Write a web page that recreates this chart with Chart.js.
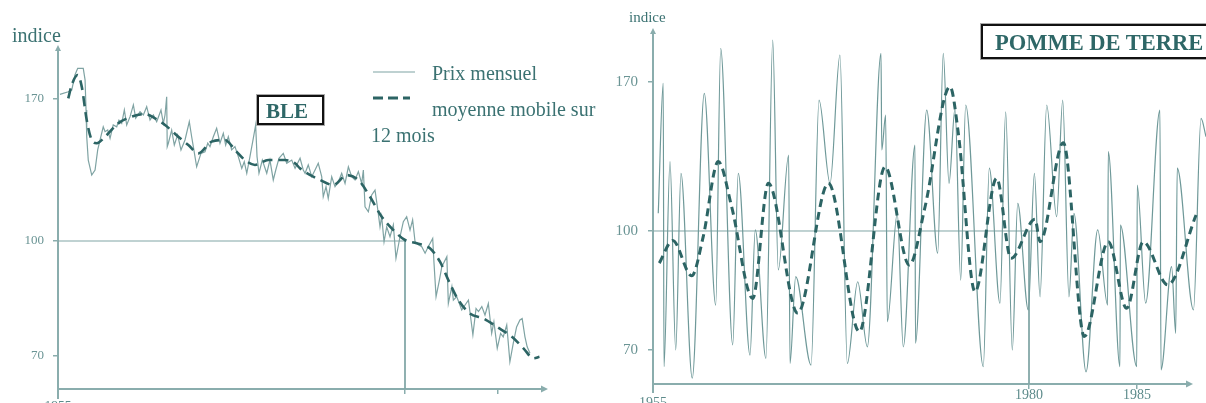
<!DOCTYPE html>
<html>
<head>
<meta charset="utf-8">
<script src="https://cdn.jsdelivr.net/npm/chart.js@4.4.1/dist/chart.umd.min.js"></script>
<style>
html, body { margin:0; padding:0; width:1206px; height:403px; overflow:hidden; background:#fff; font-family:"Liberation Serif", serif; }
.panel { position:absolute; top:0; }
#bleWrap { left:0; }
#pdtWrap { left:600px; }
.lbl { position:absolute; color:#3b7272; white-space:nowrap; line-height:1; }
.box { position:absolute; border:2px solid #111; box-shadow:0 0 0 1px #aaa; background:#fff; color:#2e6767; font-weight:bold; white-space:nowrap; }
</style>
</head>
<body>
<div class="panel" id="bleWrap"><canvas id="ble" width="600" height="420"></canvas></div>
<div class="panel" id="pdtWrap"><canvas id="pdt" width="606" height="420"></canvas></div>

<div class="lbl" style="left:12px;top:25px;font-size:20px;">indice</div>
<div class="lbl" style="left:629px;top:10px;font-size:15px;">indice</div>
<div class="lbl" style="left:432px;top:63px;font-size:20px;">Prix mensuel</div>
<div class="lbl" style="left:432px;top:99px;font-size:20px;">moyenne mobile sur</div>
<div class="lbl" style="left:371px;top:125px;font-size:20px;">12 mois</div>
<div class="box" style="left:257px;top:95px;width:56px;padding-left:7px;font-size:21px;line-height:24px;padding-top:2px;height:24px;">BLE</div>
<div class="box" style="left:981px;top:24px;width:240px;height:29px;padding-left:12px;padding-top:2px;font-size:22.5px;line-height:29px;">POMME DE TERRE</div>

<script>
// ---- BLE (wheat) : monthly price index and 12 month moving average
var blePriceX = [1955.14,1955.74,1955.99,1956.22,1956.42,1956.82,1956.95,1957.02,1957.07,1957.18,
  1957.43,1957.67,1957.86,1958.03,1958.26,1958.39,1958.58,1958.75,1958.98,1959.23,
  1959.39,1959.59,1959.78,1959.95,1960.19,1960.43,1960.60,1960.91,1961.15,1961.39,
  1961.63,1961.87,1962.11,1962.42,1962.59,1962.71,1962.83,1962.87,1962.95,1963.19,
  1963.38,1963.62,1963.86,1964.15,1964.46,1964.63,1964.75,1964.99,1965.30,1965.59,
  1965.79,1965.95,1966.19,1966.43,1966.67,1966.91,1967.08,1967.27,1967.51,1967.75,
  1967.99,1968.24,1968.42,1968.60,1968.83,1969.07,1969.24,1969.34,1969.48,1969.72,
  1970.04,1970.27,1970.51,1970.69,1970.92,1971.23,1971.48,1971.84,1972.08,1972.44,
  1972.67,1972.80,1973.03,1973.28,1973.52,1973.75,1974.00,1974.11,1974.31,1974.47,
  1974.72,1974.96,1975.20,1975.44,1975.68,1975.92,1976.16,1976.40,1976.64,1976.88,
  1977.00,1977.12,1977.36,1977.60,1977.84,1978.01,1978.20,1978.32,1978.49,1978.68,
  1978.92,1979.16,1979.35,1979.64,1979.88,1980.09,1980.27,1980.41,1980.54,1980.72,
  1980.90,1981.08,1981.25,1981.49,1981.56,1981.67,1981.85,1981.98,1982.25,1982.33,
  1982.52,1982.60,1982.78,1983.05,1983.23,1983.41,1983.65,1983.82,1983.95,1984.13,
  1984.30,1984.48,1984.66,1984.78,1984.96,1985.14,1985.28,1985.47,1985.64,1985.82,
  1986.00,1986.18,1986.30,1986.45,1986.57,1986.72];
var blePriceY = [172.3,173.6,174.4,181.8,185.1,185.1,179.4,164.6,151.4,139.9,
  132.5,135.0,144.9,149.8,156.3,153.9,154.7,150.6,157.2,156.3,
  159.6,158.0,164.6,157.2,161.3,167.1,160.5,163.7,162.1,166.2,
  159.6,162.1,158.8,164.6,158.0,162.1,171.1,146.5,148.2,154.7,
  147.3,152.3,144.9,149.8,158.8,151.4,146.5,136.6,143.2,144.0,
  148.2,146.5,151.4,155.6,148.2,153.1,147.3,151.4,144.9,146.5,
  141.6,135.8,139.1,133.4,141.6,150.6,157.2,141.6,133.4,139.9,
  133.4,139.9,130.1,135.0,140.8,143.2,138.3,139.9,135.8,140.8,
  135.0,133.4,137.5,131.7,135.0,138.3,131.7,121.8,126.8,121.0,
  131.7,126.8,129.2,133.4,128.4,136.6,131.7,130.1,134.2,128.4,
  135.0,116.9,114.4,122.7,125.1,116.9,107.0,112.0,99.8,107.0,
  102.1,107.9,95.5,102.1,109.5,112.0,105.4,110.4,99.8,99.0,
  98.5,96.8,98.5,101.3,94.2,85.5,89.8,93.3,95.9,83.7,
  88.1,84.6,85.5,82.0,83.3,84.6,75.5,82.4,81.6,82.9,
  80.7,83.7,75.9,78.9,72.0,75.9,75.0,78.1,68.5,73.3,
  77.6,79.4,79.8,75.0,72.4,70.7];
var bleAvgX = [1955.74,1955.99,1956.42,1956.71,1957.07,1957.43,1957.79,1958.39,1959.34,1960.31,
  1961.27,1961.99,1962.71,1963.67,1964.39,1965.11,1966.07,1967.03,1967.75,1968.47,
  1969.19,1970.15,1971.35,1972.08,1972.44,1973.88,1974.84,1975.80,1976.64,1977.48,
  1978.32,1979.16,1980.00,1980.63,1981.34,1981.88,1982.33,1982.87,1983.49,1984.21,
  1984.94,1985.75,1986.37,1986.91,1987.23];
var bleAvgY = [170.3,176.9,181.8,176.1,159.6,149.8,148.2,151.4,158.0,161.3,
  162.6,160.5,157.2,151.4,147.3,143.2,149.0,149.8,144.9,139.9,
  137.5,139.9,139.9,138.3,135.8,130.1,127.6,132.5,130.1,121.8,
  112.0,105.4,100.5,99.4,98.1,94.6,89.8,84.6,81.1,79.8,
  77.6,75.0,72.0,69.4,69.8];
var bleXTicks = [1955, 1980, 1985];
var bleXLabels = ['1955', '1980', '1985'];
var bleYTicks = [70, 100, 170];
var bleYLabels = ['70', '100', '170'];
var bleRefX = [1955, 1980];   // base 100 guide line

// ---- POMME DE TERRE (potato)
var pdtPriceX = [1955.35,1955.68,1955.73,1956.13,1956.51,1956.86,1957.61,1958.41,1959.17,1959.50,
  1960.30,1960.67,1961.45,1961.80,1962.51,1962.96,1963.33,1964.02,1964.11,1964.49,
  1965.51,1966.04,1966.77,1967.43,1967.92,1968.61,1969.25,1970.16,1970.21,1970.47,
  1970.58,1971.24,1971.64,1972.42,1972.45,1973.20,1973.93,1974.30,1974.68,1975.08,
  1975.46,1975.79,1976.96,1977.36,1978.07,1978.45,1978.89,1979.25,1979.95,1980.25,
  1980.51,1980.82,1981.28,1981.56,1981.85,1982.08,1982.64,1983.18,1983.64,1983.67,
  1984.21,1984.23,1984.99,1985.01,1985.40,1986.06,1986.11,1986.60,1986.79,1986.86,
  1987.61,1987.96,1988.19];
var pdtPriceY = [108.3,169.4,65.8,132.6,70.0,127.1,62.9,164.7,81.3,185.8,
  71.3,127.1,68.7,100.5,67.9,189.7,90.2,135.7,66.6,88.5,
  66.2,161.5,122.4,182.7,66.6,87.2,70.8,183.5,138.1,154.5,
  77.1,108.3,70.8,140.4,71.7,156.8,94.4,183.5,122.4,157.6,
  87.6,159.2,65.8,129.5,81.8,156.0,70.0,113.0,80.1,127.1,
  83.4,159.2,106.7,161.5,83.4,108.3,64.5,100.5,81.3,137.3,
  65.8,102.8,65.8,121.6,81.8,156.8,65.0,91.0,74.2,129.5,
  80.1,152.9,144.3];
var pdtAvgX = [1955.42,1956.31,1957.57,1958.34,1959.34,1960.23,1961.63,1962.67,1964.62,1966.66,
  1968.72,1970.43,1972.04,1973.09,1974.75,1975.30,1976.41,1977.85,1978.80,1980.28,
  1980.51,1981.59,1982.56,1983.67,1984.52,1985.29,1986.42,1987.73];
var pdtAvgY = [91.9,97.6,88.7,98.6,132.6,111.4,83.0,122.4,79.3,122.4,
  74.6,130.2,91.4,111.4,167.8,145.9,84.7,124.8,93.1,105.5,
  97.3,141.5,73.4,97.3,80.5,97.3,86.4,107.5];
var pdtXTicks = [1955, 1980, 1985];
var pdtXLabels = ['1955', '1980', '1985'];
var pdtYTicks = [70, 100, 170];
var pdtYLabels = ['70', '100', '170'];
var pdtRefX = [1955, 1980.4];

var DARK = '#2c6464';
var AXIS = '#8aadad';
var REF = '#80a5a5';

// the original axes are not drawn to a single scale: piecewise linear between labelled values
class KnotScale extends Chart.LinearScale {
  getPixelForValue(value) {
    var v = this.options.knotValues, f = this.options.knotFracs, i = 0;
    while (i < v.length - 2 && value > v[i + 1]) i++;
    return this.getPixelForDecimal(f[i] + (value - v[i]) / (v[i + 1] - v[i]) * (f[i + 1] - f[i]));
  }
  getValueForPixel(pixel) {
    var d = this.getDecimalForPixel(pixel);
    var v = this.options.knotValues, f = this.options.knotFracs, i = 0;
    while (i < f.length - 2 && d > f[i + 1]) i++;
    return v[i] + (d - f[i]) / (f[i + 1] - f[i]) * (v[i + 1] - v[i]);
  }
}
KnotScale.id = 'knots';
KnotScale.defaults = Chart.LinearScale.defaults;
Chart.register(KnotScale);

// axis lines with small arrow heads
var arrowAxes = {
  id: 'arrowAxes',
  beforeDatasetsDraw: function(chart, args, o) {
    var ctx = chart.ctx, a = chart.chartArea;
    var xr = o.xEnd ? chart.scales.x.getPixelForValue(o.xEnd) : a.right;
    ctx.save();
    ctx.strokeStyle = AXIS; ctx.fillStyle = AXIS; ctx.lineWidth = 2;
    ctx.beginPath();
    ctx.moveTo(a.left, a.bottom + o.below);
    ctx.lineTo(a.left, a.top + 4);
    ctx.moveTo(a.left, a.bottom);
    ctx.lineTo(xr - 4, a.bottom);
    ctx.stroke();
    ctx.beginPath();
    ctx.moveTo(a.left, a.top); ctx.lineTo(a.left - 3, a.top + 6); ctx.lineTo(a.left + 3, a.top + 6); ctx.closePath();
    ctx.moveTo(xr, a.bottom); ctx.lineTo(xr - 7, a.bottom - 3.5); ctx.lineTo(xr - 7, a.bottom + 3.5); ctx.closePath();
    ctx.fill();
    ctx.restore();
  }
};

// legend keys of the left panel (texts are html)
var bleLegend = {
  id: 'bleLegend',
  afterDraw: function(chart) {
    var ctx = chart.ctx;
    ctx.save();
    ctx.strokeStyle = '#7fa3a3'; ctx.lineWidth = 1.2;
    ctx.beginPath(); ctx.moveTo(373, 72); ctx.lineTo(415, 72); ctx.stroke();
    ctx.strokeStyle = DARK; ctx.lineWidth = 3; ctx.setLineDash([10, 5]);
    ctx.beginPath(); ctx.moveTo(373, 98); ctx.lineTo(410, 98); ctx.stroke();
    ctx.restore();
  }
};

function pts(xs, ys) {
  return xs.map(function(x, i) { return { x: x, y: ys[i] }; });
}

function makePanel(id, o) {
  var yMin = o.yKnots[0];
  return new Chart(document.getElementById(id), {
    type: 'line',
    data: {
      datasets: [
        { data: pts(o.avgX, o.avgY), borderColor: DARK, borderWidth: o.dashW, borderDash: o.dash,
          cubicInterpolationMode: 'monotone', borderCapStyle: 'butt' },
        { data: pts(o.priceX, o.priceY), borderColor: o.priceColor, borderWidth: 1.2,
          cubicInterpolationMode: o.smooth ? 'monotone' : 'default', tension: 0 },
        { data: pts(o.refX, [100, 100]), borderColor: REF, borderWidth: 1 },
        { data: pts([1980, 1980], [100, yMin]), borderColor: REF, borderWidth: 1 }
      ]
    },
    options: {
      responsive: false,
      animation: false,
      events: [],
      layout: { padding: o.pad },
      elements: { point: { radius: 0 } },
      plugins: { legend: { display: false }, tooltip: { enabled: false },
        arrowAxes: { below: o.below, xEnd: o.xEnd } },
      scales: {
        x: {
          type: 'knots', bounds: 'data',
          min: o.xKnots[0], max: o.xKnots[o.xKnots.length - 1],
          knotValues: o.xKnots, knotFracs: o.xFracs,
          afterFit: function(s) { s.height = o.xAxisH; },
          afterBuildTicks: function(s) { s.ticks = o.xTicks.map(function(v) { return { value: v }; }); },
          grid: { drawOnChartArea: false, tickLength: 5, color: AXIS, lineWidth: 1.5 },
          border: { display: false },
          ticks: {
            maxRotation: 0, autoSkip: false, padding: o.xPad, color: '#5d8b8b',
            font: function(c) { return { family: 'Liberation Serif', size: o.xFont, lineHeight: o.xLine[c.index] }; },
            callback: function(v, i) { return o.xLabels[i]; }
          }
        },
        y: {
          type: 'knots', bounds: 'data',
          min: yMin, max: o.yKnots[o.yKnots.length - 1],
          knotValues: o.yKnots, knotFracs: o.yFracs,
          afterFit: function(s) { s.width = o.yAxisW; },
          afterBuildTicks: function(s) { s.ticks = o.yTicks.map(function(v) { return { value: v }; }); },
          grid: { drawOnChartArea: false, tickLength: 5, color: AXIS, lineWidth: 1.5 },
          border: { display: false },
          ticks: {
            padding: o.yPad, color: '#6a9494', autoSkip: false,
            font: { family: 'Liberation Serif', size: o.yFont },
            callback: function(v, i) { return o.yLabels[i]; }
          }
        }
      }
    },
    plugins: [arrowAxes].concat(o.extra || [])
  });
}

makePanel('ble', {
  priceX: blePriceX, priceY: blePriceY, avgX: bleAvgX, avgY: bleAvgY,
  xTicks: bleXTicks, xLabels: [bleXLabels[0], ['', bleXLabels[1]], ['', bleXLabels[2]]],
  yTicks: bleYTicks, yLabels: bleYLabels, refX: bleRefX,
  xKnots: [1955, 1980, 1985, 1987.69], xFracs: [0, 0.70816, 0.89796, 1],
  yKnots: [61.39, 70, 100, 170, 196.6], yFracs: [0, 0.0959, 0.4302, 0.8430, 1],
  pad: { top: 45, right: 52, left: 0, bottom: 0 }, yAxisW: 58, xAxisH: 31,
  xPad: 5, xFont: 13.5, xLine: [0.9, 0.9, 0.9], yPad: 9, yFont: 13,
  priceColor: '#7fa3a3', smooth: false, dash: [10, 6], dashW: 2.6, below: 10,
  extra: [bleLegend]
});

// right panel: plot area runs to the page edge, the axis arrow stops at 1987.59
makePanel('pdt', {
  priceX: pdtPriceX, priceY: pdtPriceY, avgX: pdtAvgX, avgY: pdtAvgY,
  xTicks: pdtXTicks, xLabels: [['', pdtXLabels[0]], pdtXLabels[1], pdtXLabels[2]],
  yTicks: pdtYTicks, yLabels: pdtYLabels, refX: pdtRefX,
  xKnots: [1955, 1980, 1985, 1988.19], xFracs: [0, 0.67993, 0.87523, 1], xEnd: 1987.59,
  yKnots: [61.43, 70, 100, 170, 195.4], yFracs: [0, 0.0955, 0.4298, 0.8483, 1],
  pad: { top: 28, right: 0, left: 0, bottom: 0 }, yAxisW: 53, xAxisH: 36,
  xPad: 0, xFont: 14, xLine: [0.68, 0.9, 0.9], yPad: 10, yFont: 15,
  priceColor: '#6f9999', smooth: true, dash: [8, 5], dashW: 3, below: 9
});
</script>
</body>
</html>
